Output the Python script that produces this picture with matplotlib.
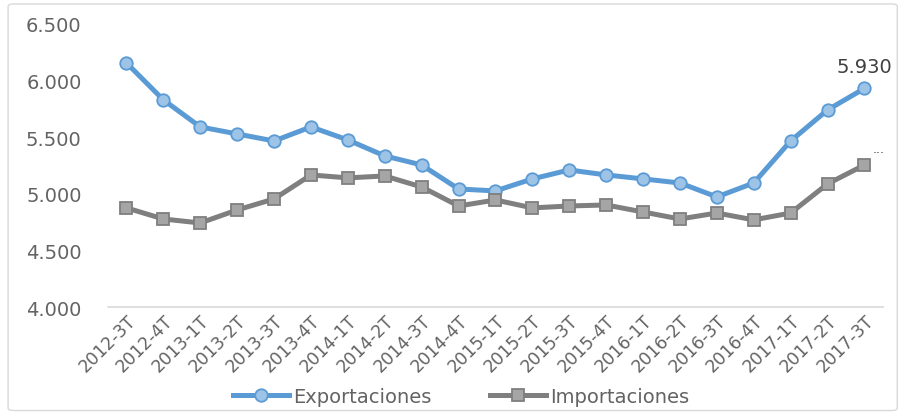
import matplotlib.pyplot as plt
from matplotlib.patches import FancyBboxPatch

# quarters on the category axis
quarters = ["2012-3T", "2012-4T", "2013-1T", "2013-2T", "2013-3T", "2013-4T",
            "2014-1T", "2014-2T", "2014-3T", "2014-4T", "2015-1T", "2015-2T",
            "2015-3T", "2015-4T", "2016-1T", "2016-2T", "2016-3T", "2016-4T",
            "2017-1T", "2017-2T", "2017-3T"]

exportaciones = [6155, 5829, 5590, 5528, 5466, 5590, 5475, 5334, 5254, 5042,
                 5025, 5131, 5210, 5166, 5131, 5095, 4972, 5095, 5466, 5740, 5930]

importaciones = [4875, 4777, 4742, 4857, 4954, 5166, 5140, 5157, 5060, 4892,
                 4945, 4875, 4892, 4901, 4839, 4777, 4830, 4769, 4830, 5087, 5254]

yticks = [4000, 4500, 5000, 5500, 6000, 6500]

text_col = '#636363'

fig = plt.figure(figsize=(9, 4.14), dpi=100)
ax = fig.add_axes([0.12, 0.256, 0.861, 0.684])

# outer chart border
fig.patches.append(FancyBboxPatch((0.009, 0.006), 0.988, 0.982,
                                  boxstyle='round,pad=0,rounding_size=0.006',
                                  transform=fig.transFigure, fill=False,
                                  edgecolor='#D9D9D9', linewidth=1))

x = list(range(len(quarters)))
ax.plot(x, exportaciones, color='#5B9BD5', linewidth=3.6, marker='o',
        markersize=9, markerfacecolor='#9DC3E6', markeredgecolor='#5B9BD5',
        markeredgewidth=1.3, label='Exportaciones', zorder=3)
ax.plot(x, importaciones, color='#7F7F7F', linewidth=3.6, marker='s',
        markersize=8.5, markerfacecolor='#A5A5A5', markeredgecolor='#7F7F7F',
        markeredgewidth=1.3, label='Importaciones', zorder=3)

ax.annotate(f"{exportaciones[-1]:,}".replace(',', '.'), (x[-1], exportaciones[-1]),
            xytext=(0, 9), textcoords='offset points', ha='center', va='bottom',
            fontsize=14, color='#404040')
ax.annotate("...", (x[-1], importaciones[-1]), xytext=(10, 7),
            textcoords='offset points', ha='center', va='bottom',
            fontsize=9, color='#404040')

ax.set_xlim(-0.5, len(quarters) - 0.5)
ax.set_ylim(4000, 6500)
ax.set_yticks(yticks)
ax.set_yticklabels([f"{v:,}".replace(',', '.') for v in yticks])
ax.set_xticks(x)
ax.set_xticklabels(quarters, rotation=45, ha='right', rotation_mode='anchor')

ax.tick_params(axis='y', length=0, labelsize=14, labelcolor=text_col, pad=19)
ax.tick_params(axis='x', length=0, labelsize=12.5, labelcolor=text_col, pad=3)

for side in ['top', 'right', 'left']:
    ax.spines[side].set_visible(False)
ax.spines['bottom'].set_color('#D9D9D9')
ax.spines['bottom'].set_linewidth(1.2)

fig.legend(loc='lower center', bbox_to_anchor=(0.512, -0.025), ncol=2,
           frameon=False, fontsize=14, handlelength=2.9, columnspacing=3.0,
           handletextpad=0.2, labelcolor=text_col)

plt.savefig('out.png', dpi=100)
